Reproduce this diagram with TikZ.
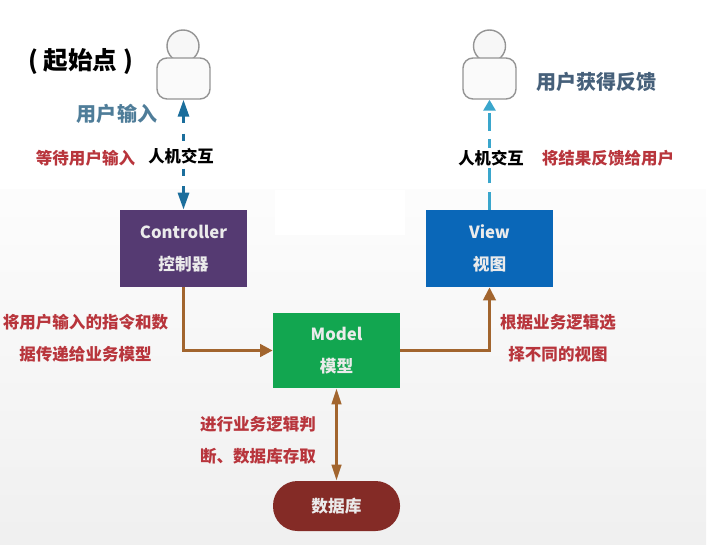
\documentclass[tikz,border=0pt]{standalone}
\usepackage{fontspec}
\setmainfont{Noto Sans CJK SC}
\usepackage{xcolor}
\usetikzlibrary{arrows.meta}
\definecolor{ctrlcolor}{HTML}{553A72}
\definecolor{viewcolor}{HTML}{0A67B8}
\definecolor{modelcolor}{HTML}{12A650}
\definecolor{dbcolor}{HTML}{842B26}
\definecolor{notecolor}{HTML}{B8353C}
\definecolor{flowcolor}{HTML}{A2652E}
\definecolor{inputcolor}{HTML}{1B6E9C}
\definecolor{backcolor}{HTML}{3AA6CC}
\definecolor{inputtext}{HTML}{4F7D99}
\definecolor{backtext}{HTML}{46607A}
\begin{document}
\begin{tikzpicture}[x=1cm,y=1cm]
        \tikzset{
        mvc box/.style={draw=none,text=white!92!black,minimum width=2.54cm,align=center,
            font=\bfseries\fontsize{9.5}{18.2}\selectfont},
        user head/.style={circle,draw=black!42,fill=black!3,minimum size=0.64cm,inner sep=0,thick},
        user body/.style={rectangle,rounded corners=0.2cm,draw=black!42,fill=black!2,
            minimum width=1.06cm,minimum height=0.82cm,inner sep=0,thick},
        note text/.style={text=notecolor,align=center,font=\bfseries\fontsize{9.4}{18.2}\selectfont},
        talk text/.style={fill=white,inner sep=1pt,font=\bfseries\fontsize{9.3}{11}\selectfont},
        side text/.style={font=\bfseries\fontsize{11.4}{13}\selectfont},
        flow/.style={draw=flowcolor,line width=1.6pt}
        }
        \useasboundingbox (0,0) rectangle (14.24,10.88);
        % background
        \shade[top color=white!99!black,bottom color=white!94!black] (0,0) rectangle (14.12,7.08);
        \fill[white] (5.5,6.18) rectangle (8.1,7.08);

        \node[user head] (head1) at (3.66,9.96) {};
        \node[user body] (body1) at (3.67,9.31) {};
        \node[user head] (head2) at (9.79,9.96) {};
        \node[user body] (body2) at (9.79,9.31) {};

        \node[mvc box,fill=ctrlcolor,minimum height=1.54cm] (controller) at (3.67,5.91) {Controller\\控制器};
        \node[mvc box,fill=viewcolor,minimum height=1.54cm] (view) at (9.79,5.91) {View\\视图};
        \node[mvc box,fill=modelcolor,minimum height=1.5cm] (model) at (6.73,3.87) {Model\\模型};
        \node[mvc box,fill=dbcolor,minimum height=1cm,rounded corners=0.49cm] (db) at (6.73,0.76) {数据库};

        \path[draw=inputcolor,line width=1.7pt,dash pattern=on 4pt off 6pt,
            {Triangle[length=3.4mm,width=2.2mm]}-{Triangle[length=3.4mm,width=2.2mm]}]
        (body1) -- (controller);
        \path[draw=backcolor,line width=1.7pt,dash pattern=on 10pt off 5pt,
            -{Triangle[length=2.2mm,width=2.4mm]}]
        (view) -- (body2);

        \path[flow,-{Triangle[length=2.5mm,width=2.5mm]}]
        (controller.south) |- (model.west);
        \path[flow,-{Triangle[length=2.6mm,width=2.5mm]}]
        (model.east) -| (view.south);
        \path[flow,{Triangle[length=3.2mm,width=1.9mm]}-{Triangle[length=3.2mm,width=1.9mm]}]
        (model.south) -- (db.north);

        \node[font=\bfseries\fontsize{14}{16}\selectfont] (start) at (1.61,9.64) {( 起始点 )};
        \node[side text,text=inputtext] (input) at (2.34,8.6) {用户输入};
        \node[side text,text=backtext] (feedback) at (11.93,9.24) {用户获得反馈};
        \node[talk text] (talk1) at (3.62,7.76) {人机交互};
        \node[talk text] (talk2) at (9.82,7.72) {人机交互};
        \node[note text] (wait) at (1.71,7.72) {等待用户输入};
        \node[note text] (back) at (12.16,7.72) {将结果反馈给用户};
        \node[note text] (pass) at (1.71,4.11) {将用户输入的指令和数\\据传递给业务模型};
        \node[note text] (pick) at (11.16,4.11) {根据业务逻辑选\\择不同的视图};
        \node[note text] (logic) at (5.16,2.08) {进行业务逻辑判\\断、数据库存取};
\end{tikzpicture}
\end{document}
